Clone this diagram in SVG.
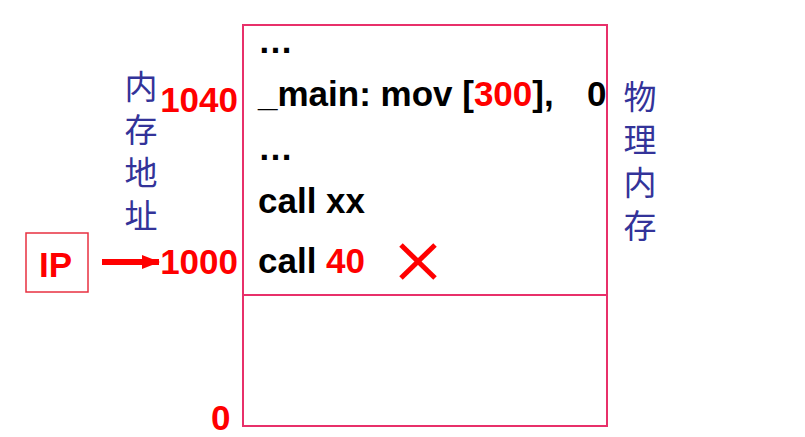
<svg xmlns="http://www.w3.org/2000/svg" width="805" height="437" viewBox="0 0 805 437">
<style>
.t{font-family:"Liberation Sans",Arial,sans-serif;font-weight:bold;font-size:35px;fill:#000}
.r{fill:#FF0000}
.cn{font-family:"Noto Sans CJK SC","Noto Sans CJK TC",sans-serif;font-size:33px;fill:#333399;writing-mode:vertical-rl;letter-spacing:10px}
.box{fill:none;stroke:#E8306A;stroke-width:2}
</style>
<defs>
<marker id="ah" viewBox="0 0 18 14" refX="17" refY="7" markerWidth="18" markerHeight="14" markerUnits="userSpaceOnUse" orient="auto">
<path d="M0,0 L18,7 L0,14 Z" fill="#FF0000"/>
</marker>
</defs>
<rect width="805" height="437" fill="#fff"/>
<g id="memory">
<rect class="box" x="243" y="25" width="364" height="401"/>
<line class="box" x1="243" y1="295" x2="607" y2="295" stroke="#F03A5A"/>
<text class="t" x="258" y="53">…</text>
<text class="t" x="258" y="106" xml:space="preserve"><tspan>_main: mov [</tspan><tspan class="r">300</tspan><tspan>],  </tspan><tspan x="587">0</tspan></text>
<text class="t" x="258" y="160">…</text>
<text class="t" x="258" y="213">call xx</text>
<text class="t" x="258" y="273">call <tspan class="r">40</tspan></text>
<g id="cross" stroke="#FF0000" stroke-width="5" stroke-linecap="butt">
<line x1="401" y1="245" x2="435" y2="278"/>
<line x1="435" y1="245" x2="401" y2="278"/>
</g>
</g>
<g id="addresses">
<text class="t r" x="238" y="112" text-anchor="end">1040</text>
<text class="t r" x="238" y="274" text-anchor="end">1000</text>
<text class="t r" x="211" y="430">0</text>
</g>
<g id="label-addr">
<text class="cn" x="141" y="70">内存地址</text>
</g>
<g id="label-phys">
<text class="cn" x="640" y="80">物理内存</text>
</g>
<g id="ip">
<rect x="26" y="233" width="62" height="59" fill="none" stroke="#E83040" stroke-width="1.5"/>
<text class="t r" x="39" y="277">IP</text>
</g>
<g id="connectors">
<line x1="102" y1="262" x2="159" y2="262" stroke="#FF0000" stroke-width="6" marker-end="url(#ah)"/>
</g>
</svg>
